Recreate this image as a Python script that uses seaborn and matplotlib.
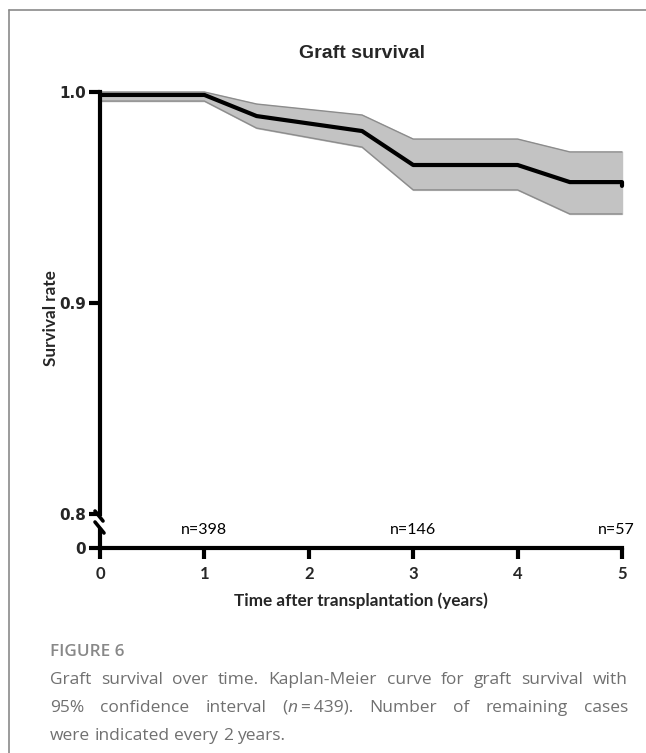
import matplotlib
matplotlib.use("Agg")
import matplotlib.pyplot as plt
from matplotlib.lines import Line2D
import seaborn as sns
import pandas as pd

# ---------------- data ----------------
time_years = [0.0, 1.0, 1.5, 2.51, 3.0, 4.0, 4.5, 5.0, 5.0]
survival = [0.9986, 0.9986, 0.9886, 0.9815, 0.9654, 0.9654, 0.9573, 0.9573, 0.9555]
ci_upper = [1.0, 1.0, 0.9943, 0.9891, 0.9777, 0.9777, 0.9716, 0.9716, 0.9716]
ci_lower = [0.9957, 0.9957, 0.9829, 0.9739, 0.9536, 0.9536, 0.9422, 0.9422, 0.9422]

x_ticks = [0, 1, 2, 3, 4, 5]
y_ticks_upper = [0.8, 0.9, 1.0]
y_ticklabels_upper = ["0.8", "0.9", "1.0"]
n_at_risk_x = [1, 3, 5]
n_at_risk_labels = ["n=398", "n=146", "n=57"]

title = "Graft survival"
xlabel = "Time after transplantation (years)"
ylabel = "Survival rate"
fig_label = "FIGURE 6"

# ---------------- style ----------------
sns.set_theme(style="white")
plt.rcParams["font.family"] = ["DejaVu Sans"]

W, H = 646, 753
fig = plt.figure(figsize=(W / 100, H / 100), dpi=100)


def fx(px):
    return px / W


def fy(py):
    return 1 - py / H


X0, X1 = 100, 622
Y_TOP, Y_08 = 92, 514
Y_LOW_TOP, Y_AXIS = 530, 548

ax_up = fig.add_axes([fx(X0), fy(Y_08), fx(X1) - fx(X0), fy(Y_TOP) - fy(Y_08)])
ax_lo = fig.add_axes([fx(X0), fy(Y_AXIS), fx(X1) - fx(X0), fy(Y_LOW_TOP) - fy(Y_AXIS)])

df = pd.DataFrame({"t": time_years, "s": survival, "lo": ci_lower, "hi": ci_upper})

# CI band
ax_up.fill_between(df["t"], df["lo"], df["hi"], color="#c3c3c3", zorder=1, clip_on=False)
ax_up.plot(df["t"], df["hi"], color="#8c8c8c", lw=1.0, zorder=2, clip_on=False)
ax_up.plot(df["t"], df["lo"], color="#8c8c8c", lw=1.0, zorder=2, clip_on=False)
sns.lineplot(data=df, x="t", y="s", ax=ax_up, color="black", lw=3.0, sort=False,
             estimator=None, zorder=3)
for ln in ax_up.lines:
    ln.set_clip_on(False)

ax_up.set_xlim(0, 5)
ax_up.set_ylim(0.8, 1.0)
ax_lo.set_xlim(0, 5)
ax_lo.set_ylim(0, 1)

for ax in (ax_up, ax_lo):
    ax.set_facecolor("none")
    for s in ("top", "right"):
        ax.spines[s].set_visible(False)
    ax.spines["left"].set_linewidth(3)
    ax.spines["left"].set_color("black")
    ax.set_xlabel("")
    ax.set_ylabel("")

ax_up.spines["bottom"].set_visible(False)
ax_up.set_xticks([])
ax_up.set_yticks(y_ticks_upper)
ax_up.set_yticklabels(y_ticklabels_upper)
ax_up.tick_params(axis="y", left=True, length=8, width=3, color="black", pad=2,
                  labelsize=11)
for lab in ax_up.get_yticklabels():
    lab.set_fontweight("bold")

ax_lo.spines["bottom"].set_linewidth(3)
ax_lo.spines["bottom"].set_color("black")
ax_lo.set_yticks([0])
ax_lo.set_yticklabels(["0"])
ax_lo.tick_params(axis="y", left=True, length=8, width=3, color="black", pad=2,
                  labelsize=11)
for lab in ax_lo.get_yticklabels():
    lab.set_fontweight("bold")
ax_lo.set_xticks(x_ticks)
ax_lo.set_xticklabels([str(v) for v in x_ticks])
ax_lo.tick_params(axis="x", bottom=True, length=8, width=3, color="black", pad=5,
                  labelsize=12)
for lab in ax_lo.get_xticklabels():
    lab.set_fontweight("bold")
    lab.set_family(["Lato", "DejaVu Sans"])

# n at risk labels
for i, (xv, txt) in enumerate(zip(n_at_risk_x, n_at_risk_labels)):
    dx = -4 if i == len(n_at_risk_x) - 1 else 0
    ax_lo.annotate(txt, xy=(xv, 0), xytext=(dx, 8), textcoords="offset points",
                   ha="center", va="bottom", fontsize=11.5, family=["Lato", "DejaVu Sans"],
                   color="black")

# axis break marks
fig.add_artist(Line2D([fx(95), fx(103)], [fy(511), fy(521)], color="black", lw=2.6))
fig.add_artist(Line2D([fx(95), fx(104)], [fy(522), fy(533)], color="black", lw=2.6))

# title and axis labels
fig.text(fx(362), fy(53), title, ha="center", va="center", fontsize=14, fontweight="bold",
         family=["Liberation Sans", "DejaVu Sans"])
fig.text(fx(361), fy(601), xlabel, ha="center", va="center", fontsize=12.3, fontweight="bold",
         family=["Lato", "DejaVu Sans"])
fig.text(fx(51), fy(318), ylabel, ha="center", va="center", rotation=90, fontsize=12.3,
         fontweight="bold", family=["Lato", "DejaVu Sans"])

# frame
fig.add_artist(Line2D([fx(9), fx(646)], [fy(10), fy(10)], color="#8a8a8a", lw=1.2))
fig.add_artist(Line2D([fx(9), fx(9)], [fy(10), fy(753)], color="#8a8a8a", lw=1.2))

# caption
cap_color = "#707070"
cap_family = ["Open Sans", "DejaVu Sans"]
cap_size = 12.5
fig.text(fx(50), fy(652), fig_label, ha="left", va="center", fontsize=12.3,
         color="#888888", family=cap_family, fontweight="semibold")

caption_lines = [
    [[("Graft", "normal")], [("survival", "normal")], [("over", "normal")], [("time.", "normal")],
     [("Kaplan-Meier", "normal")], [("curve", "normal")], [("for", "normal")],
     [("graft", "normal")], [("survival", "normal")], [("with", "normal")]],
    [[("95%", "normal")], [("confidence", "normal")], [("interval", "normal")],
     [("(", "normal"), ("n", "italic"), ("\u2009=\u2009439).", "normal")],
     [("Number", "normal")], [("of", "normal")], [("remaining", "normal")], [("cases", "normal")]],
    [[("were", "normal")], [("indicated", "normal")], [("every", "normal")], [("2", "normal")],
     [("years.", "normal")]],
]
line_y = [680, 708, 736]
justify = [True, True, False]
CX0, CX1 = 50, 628

fig.canvas.draw()
renderer = fig.canvas.get_renderer()


def piece_width(txt, style):
    t = fig.text(0, 0, txt, fontsize=cap_size, family=cap_family, style=style)
    w = t.get_window_extent(renderer).width
    t.remove()
    return w


space_w = piece_width("a a", "normal") - piece_width("aa", "normal")

for words, yv, just in zip(caption_lines, line_y, justify):
    widths = [[piece_width(p, s) for p, s in w] for w in words]
    totals = [sum(w) for w in widths]
    if just and len(words) > 1:
        gap = (CX1 - CX0 - sum(totals)) / (len(words) - 1)
    else:
        gap = space_w
    x = CX0
    for w, ws, tot in zip(words, widths, totals):
        xx = x
        for (p, s), pw in zip(w, ws):
            fig.text(fx(xx), fy(yv), p, ha="left", va="center", fontsize=cap_size,
                     family=cap_family, style=s, color=cap_color)
            xx += pw
        x += tot + gap

fig.savefig("out.png", dpi=100)
